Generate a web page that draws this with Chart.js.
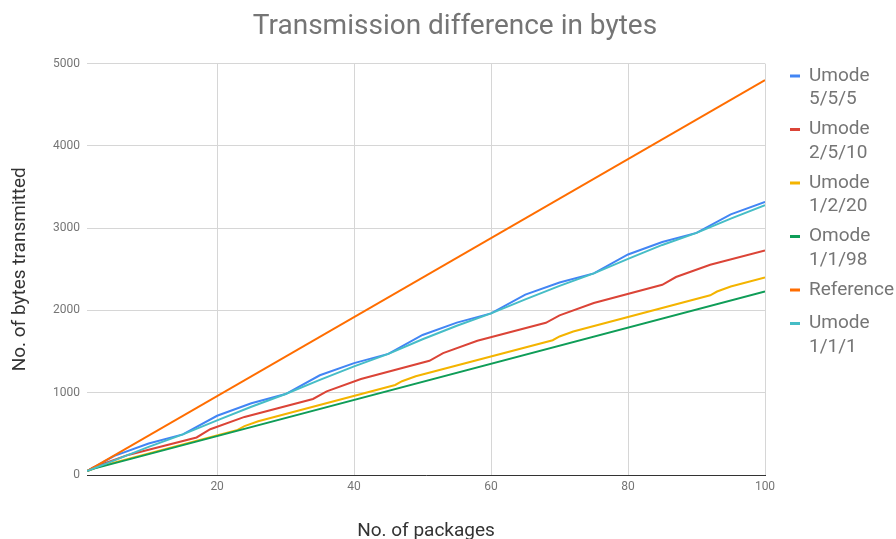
<!DOCTYPE html>
<html>
<head>
<meta charset="utf-8">
<title>Transmission difference in bytes</title>
<script src="https://cdn.jsdelivr.net/npm/chart.js@4.4.1/dist/chart.umd.min.js"></script>
<style>
  html, body { margin: 0; padding: 0; background: #ffffff; }
  #wrap { width: 896px; height: 539px; }
</style>
</head>
<body>
<div id="wrap"><canvas id="chart" width="896" height="539"></canvas></div>
<script>
// Cumulative bytes transmitted per package count, one pair of arrays per mode.
const umode555Packages = [1, 5, 10, 15, 20, 25, 30, 35, 40, 45, 50, 55, 60, 65, 70, 75, 80, 85, 90, 95, 100];
const umode555Bytes    = [48, 232, 382, 494, 720, 872, 984, 1212, 1360, 1472, 1702, 1852, 1964, 2192, 2340, 2450, 2680, 2832, 2942, 3168, 3320];

const umode2510Packages = [1, 2, 7, 17, 19, 24, 34, 36, 41, 51, 53, 58, 68, 70, 75, 85, 87, 92, 100];
const umode2510Bytes    = [48, 94, 244, 456, 556, 706, 924, 1016, 1166, 1388, 1482, 1632, 1850, 1940, 2090, 2312, 2406, 2556, 2728];

const umode1220Packages = [1, 3, 23, 24, 26, 46, 47, 49, 69, 70, 72, 92, 93, 95, 100];
const umode1220Bytes    = [48, 108, 548, 594, 654, 1094, 1140, 1200, 1638, 1684, 1744, 2184, 2230, 2290, 2402];

const omode1198Packages = [1, 2, 100];
const omode1198Bytes    = [48, 78, 2232];

const referencePackages = [1, 100];
const referenceBytes    = [48, 4800];

const umode111Packages = [1, 5, 10, 15, 20, 25, 30, 35, 40, 45, 50, 55, 60, 65, 70, 75, 80, 85, 90, 95, 100];
const umode111Bytes    = [48, 178, 342, 494, 664, 830, 984, 1156, 1320, 1472, 1650, 1814, 1964, 2134, 2298, 2450, 2626, 2796, 2942, 3116, 3278];

const seriesNames = ['Umode 5/5/5', 'Umode 2/5/10', 'Umode 1/2/20', 'Omode 1/1/98', 'Reference', 'Umode 1/1/1'];

// Axis tick values
const packageTicks = [20, 40, 60, 80, 100];
const byteTicks = [0, 1000, 2000, 3000, 4000, 5000];

// Styling
const seriesColors = ['#4285F4', '#DB4437', '#F4B400', '#0F9D58', '#FF6D00', '#46BDC6'];
const FONT = 'Roboto';

const packageSets = [umode555Packages, umode2510Packages, umode1220Packages, omode1198Packages, referencePackages, umode111Packages];
const byteSets = [umode555Bytes, umode2510Bytes, umode1220Bytes, omode1198Bytes, referenceBytes, umode111Bytes];

const datasets = seriesNames.map((name, i) => ({
  label: name,
  data: packageSets[i].map((p, j) => ({ x: p, y: byteSets[i][j] })),
  borderColor: seriesColors[i],
  backgroundColor: seriesColors[i],
  borderWidth: 2,
  pointRadius: 0,
  tension: 0,
  fill: false,
  order: seriesNames.length - i
}));

// Legend on the right, with names wrapped at the space
const sideLegend = {
  id: 'sideLegend',
  afterDraw(chart) {
    const ctx = chart.ctx;
    const markX = chart.chartArea.right + 25;
    const textX = markX + 19;
    ctx.save();
    ctx.font = '19px ' + FONT;
    ctx.textBaseline = 'middle';
    ctx.textAlign = 'left';
    let y = 76;
    chart.data.datasets.forEach(ds => {
      const lines = ds.label.split(' ');
      ctx.fillStyle = ds.borderColor;
      ctx.fillRect(markX, y - 1.5, 10, 3);
      ctx.fillStyle = '#757575';
      lines.forEach((t, k) => ctx.fillText(t, textX, y + k * 23.5));
      y += 20 * lines.length + 13.5;
    });
    ctx.restore();
  }
};

new Chart(document.getElementById('chart'), {
  type: 'line',
  data: { datasets },
  plugins: [sideLegend],
  options: {
    responsive: false,
    animation: false,
    devicePixelRatio: 1,
    layout: { padding: { left: 14, right: 0, top: 0, bottom: 0 } },
    plugins: {
      legend: { display: false },
      tooltip: { enabled: false },
      title: {
        display: true,
        text: 'Transmission difference in bytes',
        color: '#757575',
        font: { family: FONT, size: 28, weight: 'normal' },
        padding: { top: 10, bottom: 20 }
      }
    },
    scales: {
      x: {
        type: 'linear',
        min: 1,
        max: 100,
        afterBuildTicks: s => { s.ticks = packageTicks.map(v => ({ value: v })); },
        afterFit: s => { s.height = 64; },
        grid: { color: '#d6d6d6', drawTicks: false },
        border: { color: '#333333', width: 1 },
        ticks: { color: '#757575', padding: 5, font: { family: FONT, size: 12 }, callback: v => String(v) },
        title: {
          display: true,
          text: 'No. of packages',
          color: '#333333',
          font: { family: FONT, size: 19, lineHeight: 1 },
          padding: { top: 0, bottom: -2 }
        }
      },
      y: {
        type: 'linear',
        min: 0,
        max: 5000,
        afterBuildTicks: s => { s.ticks = byteTicks.map(v => ({ value: v })); },
        afterFit: s => { s.width = 73; },
        grid: { color: '#d6d6d6', drawTicks: false },
        border: { display: false },
        ticks: { color: '#757575', padding: 7, font: { family: FONT, size: 12 }, callback: v => String(v) },
        title: {
          display: true,
          text: 'No. of bytes transmitted',
          color: '#333333',
          font: { family: FONT, size: 19 },
          padding: { top: -5, bottom: 0 }
        }
      },
      // Empty right-hand scale that keeps room for the legend
      legendSpace: {
        type: 'linear',
        position: 'right',
        display: true,
        afterFit: s => { s.width = 131; },
        grid: { display: false },
        border: { display: false },
        ticks: { display: false },
        title: { display: false }
      }
    }
  }
});
</script>
</body>
</html>
